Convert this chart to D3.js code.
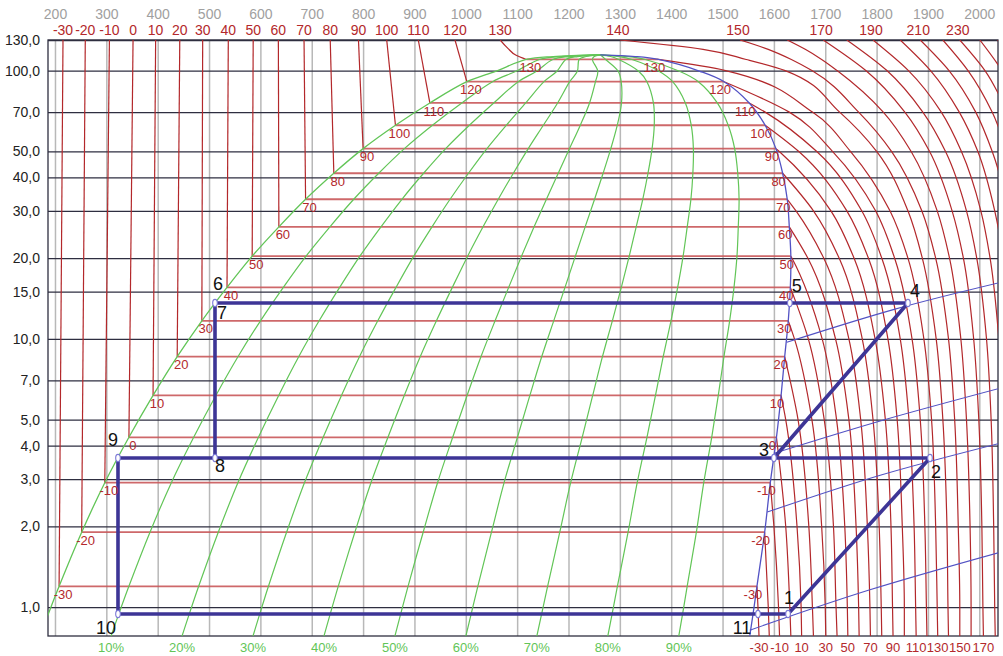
<!DOCTYPE html>
<html>
<head>
<meta charset="utf-8">
<title>Ammonia log p-h diagram</title>
<script src="https://cdn.jsdelivr.net/npm/d3@7/dist/d3.min.js"></script>
<style>
  html, body { margin: 0; padding: 0; background: #ffffff; }
  svg { display: block; }
  text { font-family: "Liberation Sans", Arial, Helvetica, sans-serif; }
</style>
</head>
<body>
<svg id="chart" width="1003" height="656"></svg>
<script>
// ---------- axis ticks ----------
const enthalpyTicks = [200, 300, 400, 500, 600, 700, 800, 900, 1000, 1100, 1200,
                       1300, 1400, 1500, 1600, 1700, 1800, 1900, 2000];
const pressureTicks = [1, 2, 3, 4, 5, 7, 10, 15, 20, 30, 40, 50, 70, 100, 130];
const pressureLabels = ["1,0", "2,0", "3,0", "4,0", "5,0", "7,0", "10,0", "15,0",
                        "20,0", "30,0", "40,0", "50,0", "70,0", "100,0", "130,0"];

// ---------- saturation curve (°C, bar, kJ/kg) ----------
const satT  = [-40, -35, -30, -20, -10, 0, 10, 20, 30, 40, 50, 60, 70, 80, 90, 100, 110, 120, 125, 130, 131.5, 132.4];
const satP  = [0.717, 0.931, 1.195, 1.901, 2.908, 4.294, 6.15, 8.575, 11.67, 15.55, 20.33, 26.15, 33.13, 41.42, 51.17, 62.55, 75.73, 90.9, 99.4, 110, 112.8, 114.4];
const satHl = [164, 186, 208, 252, 297, 344, 391, 438, 486, 535, 584, 636, 688, 743, 800, 863, 930, 1002, 1058, 1118, 1170, 1262];
const satHv = [1550, 1559, 1567, 1582, 1593, 1605, 1614, 1621, 1628, 1632, 1633, 1630, 1626, 1617, 1604, 1583, 1552, 1503, 1456, 1375, 1330, 1262];

// ---------- vapour quality lines ----------
const qualities = [0.1, 0.2, 0.3, 0.4, 0.5, 0.6, 0.7, 0.8, 0.9];
const qualityLabels = ["10%", "20%", "30%", "40%", "50%", "60%", "70%", "80%", "90%"];

// ---------- isotherms, liquid side (enthalpy at 130 / 121 / 114 bar) ----------
const liquidLevels = [130, 121, 114];
const liquidT = [-30, -20, -10, 0, 10, 20, 30, 40, 50, 60, 70, 80, 90, 100, 110, 120, 130];
const liquidH = [
  [215.6, null, null], [259, null, null], [306, null, null], [352, null, null],
  [396, null, null], [443, null, null], [487.6, null, null], [537.5, null, null],
  [586, null, null], [635, null, null], [685, null, null], [736, null, null],
  [791, null, null], [846, null, null], [907.5, null, null], [979, null, null],
  [1067, 1082, 1098]
];

// ---------- isotherms, vapour side (enthalpy at each pressure level) ----------
const vaporLevels = [130, 120, 110, 100, 70, 50, 30, 20, 10, 5, 2, 1, 0.78];
const vaporT = [-30, -20, -10, 0, 10, 20, 30, 40, 50, 60, 70, 80, 90, 100, 110, 120, 130,
                140, 150, 160, 170, 180, 190, 200, 210, 220, 230, 240, 250];
const _ = null;
const vaporH = [
  [_, _, _, _, _, _, _, _, _, _, _, 1569, 1571],
  [_, _, _, _, _, _, _, _, _, _, _, 1589, 1591],
  [_, _, _, _, _, _, _, _, _, _, 1600, 1609, 1611],
  [_, _, _, _, _, _, _, _, _, _, 1623, 1631, 1633],
  [_, _, _, _, _, _, _, _, _, 1623, 1645, 1653, 1654],
  [_, _, _, _, _, _, _, _, _, 1647, 1668, 1675, 1677],
  [_, _, _, _, _, _, _, _, 1640, 1674, 1693, 1700, 1701],
  [_, _, _, _, _, _, _, _, 1667, 1698, 1716, 1721, 1723],
  [_, _, _, _, _, _, _, 1635, 1694, 1722, 1738, 1743, 1744],
  [_, _, _, _, _, _, _, 1666, 1720, 1746, 1760, 1765, 1766],
  [_, _, _, _, _, _, 1643, 1697, 1746, 1769, 1782, 1787, 1788],
  [_, _, _, _, _, _, 1677, 1727, 1772, 1793, 1805, 1809, 1810],
  [_, _, _, _, _, 1610, 1711, 1756, 1797, 1817, 1828, 1831, 1832],
  [_, _, _, _, _, 1648, 1742, 1784, 1822, 1840, 1850, 1854, 1854],
  [_, _, _, _, 1583, 1683, 1771, 1810, 1846, 1863, 1873, 1876, 1877],
  [_, _, _, _, 1630, 1714, 1798, 1835, 1869, 1885, 1894, 1897, 1898],
  [_, _, _, 1506, 1675, 1749, 1826, 1861, 1892, 1907, 1915, 1918, 1919],
  [1300, 1462, 1546, 1622, 1728, 1800, 1861, 1889, 1916, 1929, 1937, 1939, 1940],
  [1534, 1589, 1634, 1674, 1765, 1829, 1888, 1915, 1940, 1952, 1959, 1962, 1962],
  [1626, 1661, 1693, 1723, 1813, 1867, 1918, 1942, 1964, 1975, 1982, 1984, 1984],
  [1696, _, _, 1779, 1855, 1903, 1947, 1969, 1989, 1999, 2005, 2007, 2008],
  [1742, _, _, 1820, 1890, 1934, 1975, 1995, 2014, 2023, 2028, 2030, 2031],
  [1793, _, _, 1862, 1926, 1965, 2003, 2021, 2038, 2047, 2052, _, _],
  [1846, _, _, 1905, 1961, 1997, 2030, 2047, 2063, _, _, _, _],
  [1885, _, _, 1941, 1993, 2025, 2057, 2072, _, _, _, _, _],
  [1929, _, _, 1978, 2025, 2054, 2083, _, _, _, _, _, _],
  [1962, _, _, 2011, 2054, 2082, _, _, _, _, _, _, _],
  [2001, _, _, 2044, 2085, _, _, _, _, _, _, _, _],
  [2036, _, _, 2076, _, _, _, _, _, _, _, _, _]
];
const topVaporLabels = [140, 150, 170, 190, 210, 230];
const bottomVaporLabels = [-30, -10, 10, 30, 50, 70, 90, 110, 130, 150, 170];

// ---------- isentropes (superheated region) ----------
const isentropeH = [[1625, 1836, 2040], [1602, 1812, 2040], [1587, 1807, 2040], [1553, 1787, 2040]];
const isentropeP = [[9.7, 12.9, 16.2], [3.75, 4.97, 6.54], [2.26, 3.1, 4.08], [0.82, 1.16, 1.6]];

// ---------- refrigeration cycle ----------
const cycleNames = ["1", "2", "3", "4", "5", "6", "7", "8", "9", "10", "11"];
const cycleH = [1627.5, 1904, 1600, 1861, 1631, 511.6, 511.6, 511.6, 322.7, 322.7, 1569];
const cycleP = [0.942, 3.595, 3.595, 13.6, 13.6, 13.6, 13.6, 3.595, 3.595, 0.942, 0.942];

// ================= drawing =================
const svg = d3.select("#chart");
const P = { left: 48, right: 998, top: 40, bottom: 636 };
const x = d3.scaleLinear().domain([186.4, 2036.4]).range([P.left, P.right]);
const y = d3.scaleLog().domain([0.78, 130]).range([P.bottom, P.top]);

const RED = "#b3282b", GREEN = "#62c557", BLUE = "#5252c4", CYCLE = "#3d3596";

svg.append("defs").append("clipPath").attr("id", "plotClip")
  .append("rect").attr("x", P.left).attr("y", P.top)
  .attr("width", P.right - P.left).attr("height", P.bottom - P.top);

// enthalpy grid (vertical)
const gridV = svg.append("g").attr("transform", `translate(0,${P.bottom})`)
  .call(d3.axisBottom(x).tickValues(enthalpyTicks).tickSize(-(P.bottom - P.top)).tickFormat(""));
gridV.select(".domain").remove();
gridV.selectAll("line").attr("stroke", "#b8b8b8").attr("stroke-width", 1.5);

// pressure grid (horizontal)
const gridH = svg.append("g").attr("transform", `translate(${P.left},0)`)
  .call(d3.axisLeft(y).tickValues(pressureTicks).tickSize(-(P.right - P.left)).tickFormat(""));
gridH.select(".domain").remove();
gridH.selectAll("line").attr("stroke", "#2e2e40").attr("stroke-width", 1.3);

// frame
svg.append("rect").attr("x", P.left).attr("y", P.top)
  .attr("width", P.right - P.left).attr("height", P.bottom - P.top)
  .attr("fill", "none").attr("stroke", "#2e2e40").attr("stroke-width", 1.3);

// axis labels
const axL = svg.append("g").attr("transform", `translate(${P.left - 4},0)`)
  .call(d3.axisLeft(y).tickValues(pressureTicks).tickSize(0).tickPadding(4)
    .tickFormat((d, i) => pressureLabels[i]));
axL.select(".domain").remove();
axL.attr("font-size", 14).attr("font-family", "Liberation Sans, Arial, sans-serif");
axL.selectAll("text").attr("fill", "#222");

const axT = svg.append("g").attr("transform", "translate(0,23)")
  .call(d3.axisTop(x).tickValues(enthalpyTicks).tickSize(0).tickPadding(4).tickFormat(d3.format("d")));
axT.select(".domain").remove();
axT.attr("font-size", 14).attr("font-family", "Liberation Sans, Arial, sans-serif");
axT.selectAll("text").attr("fill", "#a0a0a0");

const plot = svg.append("g").attr("clip-path", "url(#plotClip)");
const line = d3.line().x(d => x(d[0])).y(d => y(d[1]));
const smooth = d3.line().x(d => x(d[0])).y(d => y(d[1])).curve(d3.curveMonotoneY);
const natural = d3.line().x(d => x(d[0])).y(d => y(d[1])).curve(d3.curveNatural);
const rom = d3.line().x(d => x(d[0])).y(d => y(d[1])).curve(d3.curveCatmullRom.alpha(0.5));

const nSat = satT.length;

// isotherms inside the two-phase region
satT.forEach((T, i) => {
  if (T % 10 !== 0 || T < -30 || T > 130) return;
  plot.append("path").attr("d", line([[satHl[i], satP[i]], [satHv[i], satP[i]]]))
    .attr("stroke", "#c9585a").attr("stroke-width", 1.8).attr("fill", "none").attr("opacity", 0.9);
});

// isotherms in the liquid region
liquidT.forEach((T, i) => {
  const pts = [];
  liquidLevels.forEach((p, j) => { if (liquidH[i][j] != null) pts.push([liquidH[i][j], p]); });
  const s = satT.indexOf(T);
  pts.push([satHl[s], satP[s]]);
  plot.append("path").attr("d", (pts.length > 2 ? smooth : line)(pts))
    .attr("stroke", RED).attr("stroke-width", 1.2).attr("fill", "none");
});

// isotherms in the superheated region
vaporT.forEach((T, i) => {
  const pts = [];
  const s = satT.indexOf(T);
  if (s >= 0) pts.push([satHv[s], satP[s]]);
  vaporLevels.forEach((p, j) => { if (vaporH[i][j] != null) pts.push([vaporH[i][j], p]); });
  plot.append("path").attr("d", smooth(pts))
    .attr("stroke", RED).attr("stroke-width", 1.2).attr("fill", "none");
});

// vapour quality lines
const satDesc = d3.range(nSat).reverse();
qualities.forEach(q => {
  const pts = satDesc.map(i => [satHl[i] + q * (satHv[i] - satHl[i]), satP[i]]);
  plot.append("path").attr("d", rom(pts))
    .attr("stroke", GREEN).attr("stroke-width", 1.2).attr("fill", "none");
});

// saturated liquid (green) and saturated vapour (blue)
plot.append("path").attr("d", rom(satDesc.map(i => [satHl[i], satP[i]])))
  .attr("stroke", GREEN).attr("stroke-width", 1.3).attr("fill", "none");
plot.append("path").attr("d", rom(satDesc.map(i => [satHv[i], satP[i]])))
  .attr("stroke", BLUE).attr("stroke-width", 1.3).attr("fill", "none");

// isentropes
isentropeH.forEach((hs, k) => {
  plot.append("path").attr("d", natural(hs.map((h, j) => [h, isentropeP[k][j]])))
    .attr("stroke", BLUE).attr("stroke-width", 1.1).attr("fill", "none");
});

// refrigeration cycle
const cp = i => [cycleH[i], cycleP[i]];
const cyclePaths = [[9, 10, 0, 1, 2, 7, 8, 9], [2, 3, 4, 6, 7]];
cyclePaths.forEach(seq => {
  plot.append("path").attr("d", line(seq.map(cp)))
    .attr("stroke", CYCLE).attr("stroke-width", 3.6).attr("fill", "none")
    .attr("stroke-linejoin", "round");
});
[0, 1, 2, 3, 4, 6, 7, 8, 9, 10].forEach(i => {
  svg.append("ellipse").attr("cx", x(cycleH[i])).attr("cy", y(cycleP[i]))
    .attr("rx", 2.3).attr("ry", 3.6).attr("fill", "#ffffff")
    .attr("stroke", "#7b78d6").attr("stroke-width", 1.1);
});
const cycleLabelOffset = [[1, -16], [6, 14], [-10, -8], [7, -12], [7, -17], [3, -19],
                          [7, 10], [5, 8], [-5, -18], [-12, 14], [-16, 14]];
cycleNames.forEach((name, i) => {
  svg.append("text").attr("x", x(cycleH[i]) + cycleLabelOffset[i][0])
    .attr("y", y(cycleP[i]) + cycleLabelOffset[i][1]).attr("dy", "0.35em")
    .attr("text-anchor", "middle").attr("font-size", 18).attr("fill", "#111").text(name);
});

// isotherm labels along the saturation curve
const labels = svg.append("g").attr("font-size", 13).attr("fill", RED).attr("text-anchor", "middle");
satT.forEach((T, i) => {
  if (T % 10 !== 0 || T < -30 || T > 130) return;
  labels.append("text").attr("x", x(satHl[i]) + 4).attr("y", y(satP[i]) + 8)
    .attr("dy", "0.35em").text(T);
  labels.append("text").attr("x", x(satHv[i]) - 4).attr("y", y(satP[i]) + 8)
    .attr("dy", "0.35em").text(T);
});

// temperature labels above the plot
const topLab = svg.append("g").attr("font-size", 14).attr("fill", RED).attr("text-anchor", "middle");
liquidT.forEach((T, i) => {
  topLab.append("text").attr("x", x(liquidH[i][0])).attr("y", 35).text(T);
});
topVaporLabels.forEach(T => {
  const i = vaporT.indexOf(T);
  topLab.append("text").attr("x", x(vaporH[i][0]) - 2).attr("y", 35).text(T);
});

// labels below the plot
const botLab = svg.append("g").attr("font-size", 13).attr("text-anchor", "middle");
const lp = Math.log(0.78);
const t0 = (lp - Math.log(satP[0])) / (Math.log(satP[1]) - Math.log(satP[0]));
const hlB = satHl[0] + t0 * (satHl[1] - satHl[0]);
const hvB = satHv[0] + t0 * (satHv[1] - satHv[0]);
qualities.forEach((q, k) => {
  botLab.append("text").attr("x", x(hlB + q * (hvB - hlB))).attr("y", 652)
    .attr("fill", GREEN).text(qualityLabels[k]);
});
bottomVaporLabels.forEach(T => {
  const i = vaporT.indexOf(T);
  botLab.append("text").attr("x", x(vaporH[i][vaporLevels.length - 1])).attr("y", 652)
    .attr("fill", RED).text(T);
});
</script>
</body>
</html>
